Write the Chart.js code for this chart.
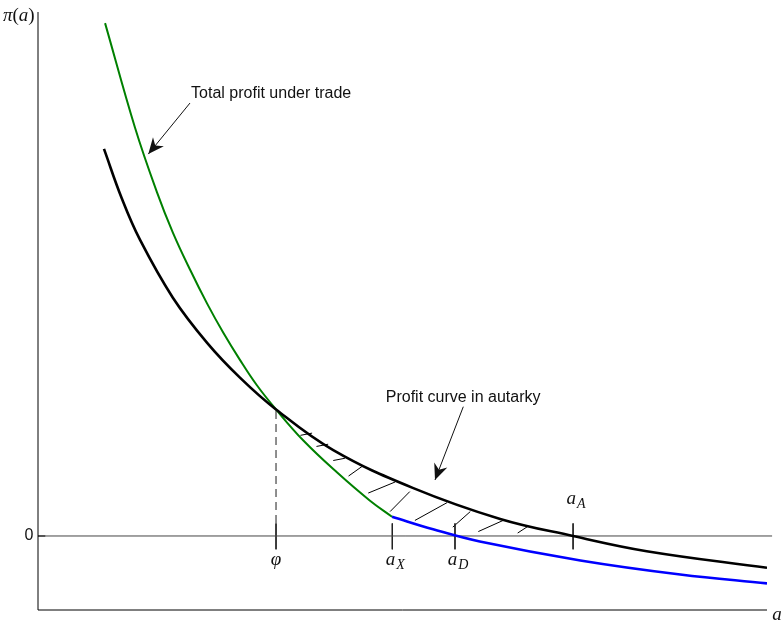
<!DOCTYPE html>
<html>
<head>
<meta charset="utf-8">
<script src="https://cdn.jsdelivr.net/npm/chart.js@4.4.0/dist/chart.umd.min.js"></script>
<style>
  body { margin: 0; background: #fff; }
  #wrap { width: 782px; height: 621px; }
</style>
</head>
<body>
<div id="wrap"><canvas id="profit-chart"></canvas></div>
<script>
// Profit curve in autarky (black)
const autarkyA = [0.905, 1.15, 1.4, 1.85, 2.32, 2.77, 3.265, 4.05, 5.14, 6.34, 7.34, 8.35, 10.0];
const autarkyPi = [5.23, 4.56, 4.0, 3.22, 2.61, 2.14, 1.71, 1.16, 0.65, 0.23, 0, -0.205, -0.43];

// Total profit under trade, exporting firms (green)
const tradeA = [0.92, 1.33, 1.63, 1.85, 2.09, 2.32, 2.54, 2.77, 3.0, 3.265, 3.64, 4.1, 4.55, 4.856];
const tradePi = [6.93, 5.52, 4.65, 4.10, 3.59, 3.14, 2.75, 2.38, 2.04, 1.71, 1.29, 0.86, 0.48, 0.26];

// Profit under trade, non exporting firms (blue)
const domesticA = [4.856, 5.42, 6.06, 7.44, 8.81, 10.0];
const domesticPi = [0.26, 0.09, -0.075, -0.33, -0.52, -0.64];

// Cutoffs on the a axis
const cutoffBase = ['φ', 'a', 'a', 'a'];
const cutoffSub = ['', 'X', 'D', 'A'];
const cutoffA = [3.265, 4.86, 5.72, 7.34];

// Hatching between autarky and trade curves
const hatchFromA = [3.60, 3.82, 4.05, 4.26, 4.53, 4.83, 5.17, 5.69, 6.04, 6.58];
const hatchFromPi = [1.36, 1.21, 1.02, 0.81, 0.58, 0.33, 0.21, 0.12, 0.06, 0.04];
const hatchToA = [3.76, 3.98, 4.21, 4.46, 4.90, 5.10, 5.61, 5.93, 6.38, 6.72];
const hatchToPi = [1.39, 1.24, 1.05, 0.95, 0.73, 0.60, 0.45, 0.33, 0.21, 0.13];

// Axis range
const aMin = 0, aMax = 10;
const piMin = -1, piMax = 7.08;

// Callout texts
const tradeNote = 'Total profit under trade';
const autarkyNote = 'Profit curve in autarky';

// Helper: array pair -> points
function toPoints(xs, ys) {
    return xs.map((x, i) => ({ x: x, y: ys[i] }));
}

// Helper: plain segment dataset
function segment(x1, y1, x2, y2, color, width, dash) {
    return {
        data: [{ x: x1, y: y1 }, { x: x2, y: y2 }],
        borderColor: color,
        borderWidth: width,
        borderDash: dash || [],
        pointRadius: 0,
        tension: 0,
        clip: false,
        order: 5
    };
}

// Curves
const datasets = [
    {
        data: toPoints(autarkyA, autarkyPi),
        borderColor: '#000000', borderWidth: 2.6,
        pointRadius: 0, tension: 0.4, order: 1
    },
    {
        data: toPoints(tradeA, tradePi),
        borderColor: '#008000', borderWidth: 2,
        pointRadius: 0, tension: 0.4, order: 2
    },
    {
        data: toPoints(domesticA, domesticPi),
        borderColor: '#0000ff', borderWidth: 2.6,
        pointRadius: 0, tension: 0.4, order: 2
    }
];

// Axes and zero line
datasets.push(segment(aMin, piMin, aMin, piMax, '#000', 1));
datasets.push(segment(aMin, piMin, aMax, piMin, '#000', 1));
datasets.push(segment(aMin, 0, aMax + 0.07, 0, '#444', 1));
datasets.push(segment(aMin, 0, aMin + 0.1, 0, '#000', 1.2));

// Cutoff ticks
cutoffA.forEach(a => datasets.push(segment(a, 0.17, a, -0.18, '#222', 1)));

// Dashed guide at phi
datasets.push(segment(cutoffA[0], 1.69, cutoffA[0], 0.17, '#444', 1.2, [8, 5]));

// Hatch lines
hatchFromA.forEach((a, i) => datasets.push(segment(a, hatchFromPi[i], hatchToA[i], hatchToPi[i], '#000', 1)));

// Text and arrows
const annotations = {
    id: 'annotations',
    afterDatasetsDraw(chart) {
        const ctx = chart.ctx;
        const px = v => chart.scales.x.getPixelForValue(v);
        const py = v => chart.scales.y.getPixelForValue(v);
        ctx.save();
        ctx.fillStyle = '#111';
        ctx.strokeStyle = '#111';
        ctx.textBaseline = 'middle';

        // math label, centred
        function mathLabel(base, sub, x, y) {
            ctx.font = 'italic 19px "Liberation Serif"';
            const wb = ctx.measureText(base).width;
            ctx.font = 'italic 14px "Liberation Serif"';
            const ws = sub ? ctx.measureText(sub).width + 1 : 0;
            const left = x - (wb + ws) / 2;
            ctx.textAlign = 'left';
            ctx.font = 'italic 19px "Liberation Serif"';
            ctx.fillText(base, left, y);
            if (sub) {
                ctx.font = 'italic 14px "Liberation Serif"';
                ctx.fillText(sub, left + wb + 1, y + 5);
            }
        }

        // pieces of text in a row, each with its own font
        function textRun(parts, x, y) {
            ctx.textAlign = 'left';
            let cx = x;
            parts.forEach(p => {
                ctx.font = p[1];
                ctx.fillText(p[0], cx, y);
                cx += ctx.measureText(p[0]).width;
            });
        }

        // arrow with filled head
        function arrow(x1, y1, x2, y2) {
            ctx.lineWidth = 1;
            ctx.beginPath();
            ctx.moveTo(x1, y1);
            ctx.lineTo(x2, y2);
            ctx.stroke();
            const ang = Math.atan2(y2 - y1, x2 - x1);
            ctx.save();
            ctx.translate(x2, y2);
            ctx.rotate(ang);
            ctx.beginPath();
            ctx.moveTo(0, 0);
            ctx.lineTo(-16, -7);
            ctx.lineTo(-11, 0);
            ctx.lineTo(-16, 7);
            ctx.closePath();
            ctx.fill();
            ctx.restore();
        }

        cutoffA.forEach((a, i) => {
            const y = i === 3 ? py(0.5) : py(-0.33);
            mathLabel(cutoffBase[i], cutoffSub[i], px(a) + (cutoffSub[i] ? 3 : 0), y);
        });

        // axis labels
        ctx.textAlign = 'center';
        ctx.font = '16px "Liberation Sans"';
        ctx.fillText('0', px(aMin) - 9, py(0));
        const it = 'italic 19px "Liberation Serif"';
        const up = '19px "Liberation Serif"';
        textRun([['π', it], ['(', up], ['a', it], [')', up]], px(aMin) - 35, py(piMax) + 4);
        ctx.textAlign = 'center';
        ctx.font = it;
        ctx.fillText('a', px(aMax) + 10, py(piMin) + 5);

        // callouts
        ctx.textAlign = 'left';
        ctx.font = '16px "Liberation Sans"';
        ctx.fillText(tradeNote, px(2.1), py(5.98));
        ctx.fillText(autarkyNote, px(4.77), py(1.87));
        arrow(px(2.085), py(5.85), px(1.513), py(5.16));
        arrow(px(5.834), py(1.747), px(5.446), py(0.757));

        ctx.restore();
    }
};

new Chart(document.getElementById('profit-chart'), {
    type: 'line',
    data: { datasets: datasets },
    options: {
        responsive: true,
        maintainAspectRatio: false,
        animation: false,
        events: [],
        layout: { padding: { left: 38, right: 15, top: 12, bottom: 11 } },
        scales: {
            x: { type: 'linear', min: aMin, max: aMax, display: false },
            y: { type: 'linear', min: piMin, max: piMax, display: false }
        },
        plugins: {
            legend: { display: false },
            tooltip: { enabled: false }
        }
    },
    plugins: [annotations]
});
</script>
</body>
</html>
